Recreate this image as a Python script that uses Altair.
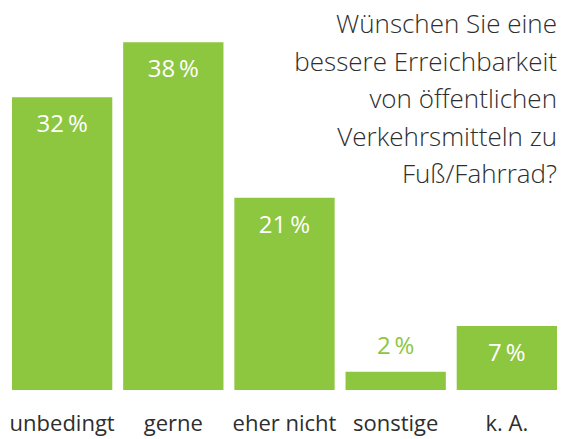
import altair as alt
import pandas as pd

categories = ["unbedingt", "gerne", "eher nicht", "sonstige", "k. A."]
values = [32, 38, 21, 2, 7]
title_lines = ["Wünschen Sie eine", "bessere Erreichbarkeit", "von öffentlichen",
               "Verkehrsmitteln zu", "Fuß/Fahrrad?"]

GREEN = "#8DC63F"
DARK = "#2e2e2e"
FONT = "Open Sans"

df = pd.DataFrame({"cat": categories, "val": values})
df["label"] = df["val"].astype(str) + "\u2009%"

x = alt.X("cat:N", sort=categories,
          scale=alt.Scale(paddingInner=0.098, paddingOuter=0),
          axis=alt.Axis(title=None, domain=False, ticks=False, labelAngle=0,
                        labelFontSize=22, labelColor=DARK, labelFont=FONT,
                        labelBaseline="alphabetic", labelPadding=40))
y = alt.Y("val:Q", scale=alt.Scale(domain=[0, 40], nice=False),
          axis=None)

base = alt.Chart(df).encode(x=x, y=y)

bars = base.mark_bar(color=GREEN)

inside = base.transform_filter("datum.val >= 5").mark_text(
    color="white", fontSize=24, font=FONT, baseline="alphabetic", dy=35
).encode(text="label:N")

outside = base.transform_filter("datum.val < 5").mark_text(
    color=GREEN, fontSize=24, font=FONT, baseline="alphabetic", dy=-18
).encode(text="label:N")

title_df = pd.DataFrame({"t": ["\n".join(title_lines)]})
title = alt.Chart(title_df).mark_text(
    align="right", baseline="alphabetic", fontSize=26, fontWeight=300,
    font=FONT, color=DARK, lineBreak="\n", lineHeight=37.5
).encode(text="t:N", x=alt.value(545), y=alt.value(9))

chart = alt.layer(bars, inside, outside, title).properties(
    width=545, height=366,
    padding={"left": 4, "top": 16, "right": 0, "bottom": 48},
    autosize="none",
).configure_view(stroke=None)

chart.save("out.html", embed_options={"renderer": "svg", "actions": False})
